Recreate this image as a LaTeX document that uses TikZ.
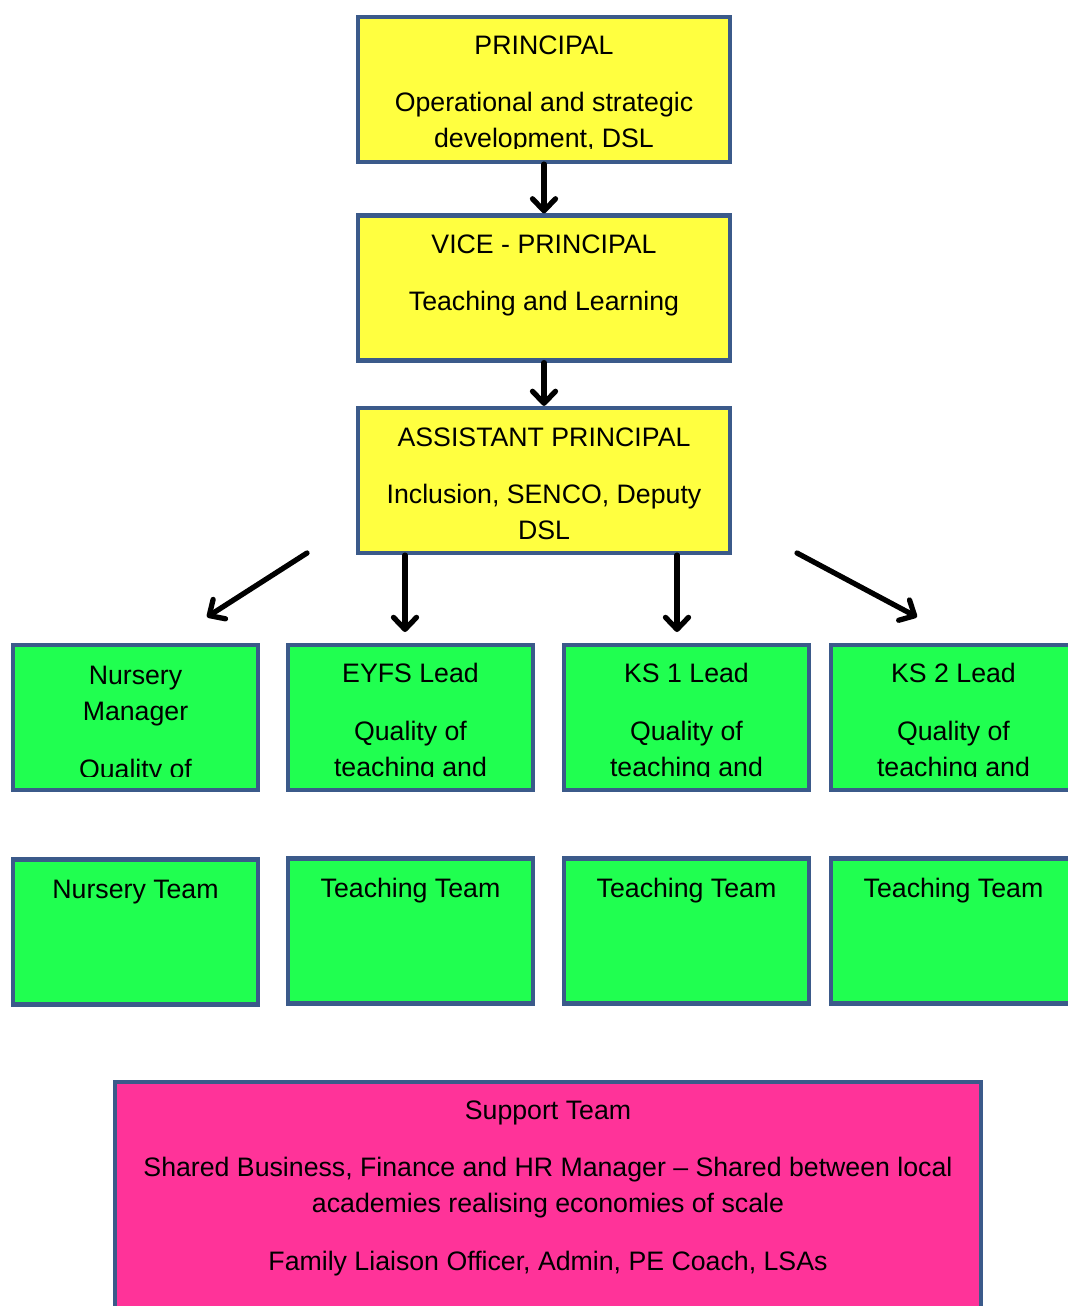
\documentclass[tikz,border=0pt]{standalone}
\usepackage{fontspec}
\setmainfont{Liberation Sans}
\usetikzlibrary{positioning,arrows.meta,calc}
\definecolor{cframe}{HTML}{3B5A8A}
\definecolor{cyellow}{HTML}{FFFF40}
\definecolor{cgreen}{HTML}{20FF50}
\definecolor{cpink}{HTML}{FF3399}

\begin{document}
\begin{tikzpicture}[x=0.02cm, y=-0.02cm,
 box/.style={rectangle, draw=cframe, line width=2.4pt, inner sep=0pt},
 head/.style={box, fill=cyellow, minimum width=7.44cm, minimum height=2.9cm},
 lead/.style={box, fill=cgreen, minimum width=4.9cm, minimum height=2.9cm},
 supp/.style={box, fill=cpink, minimum width=17.32cm, minimum height=5.2cm},
 txt/.style={anchor=north, align=center, inner sep=0pt, font=\fontsize{15.2}{20.4}\selectfont},
 arr/.style={-{Straight Barb[length=2.4mm,width=4.6mm,round]}, line width=3pt, line cap=round, draw=black},
]
 \useasboundingbox (0,0) rectangle (1068,1306);
 \clip (0,0) rectangle (1068,1306);

 % leadership
 \node[head] (P) at (544,89.5) {};
 \node[head] (V) at (544,288) {};
 \node[head] (A) at (544,480.5) {};

 % phase leads and teams
 \node[lead] (NM) at (135.5,717.5) {};
 \node[lead] (EY) at (410.5,717.5) {};
 \node[lead] (K1) at (686.5,717.5) {};
 \node[lead] (K2) at (953.5,717.5) {};
 \node[lead] (NT) at (135.5,932) {};
 \node[lead] (ET) at (410.5,931) {};
 \node[lead] (T1) at (686.5,931) {};
 \node[lead] (T2) at (953.5,931) {};

 \node[supp] (ST) at (548,1212) {};

 % texts cut off by their frames
 \begin{scope}
 \clip (0,0) rectangle (1068,148) (0,600) rectangle (1068,776);
 \node[txt] (P-t) at (544,35) {PRINCIPAL\\[12.5pt]Operational and strategic\\development, DSL};
 \node[txt] (NM-t) at (135.5,666) {Nursery\\Manager\\[12.5pt]Quality of\\teaching and};
 \node[txt] (EY-t) at (410.5,663) {EYFS Lead\\[12.5pt]Quality of\\teaching and};
 \node[txt] (K1-t) at (686.5,663) {KS 1 Lead\\[12.5pt]Quality of\\teaching and};
 \node[txt] (K2-t) at (953.5,663) {KS 2 Lead\\[12.5pt]Quality of\\teaching and};
 \end{scope}

 \node[txt] (V-t) at (544,234) {VICE - PRINCIPAL\\[12.5pt]Teaching and Learning};
 \node[txt] (A-t) at (544,427) {ASSISTANT PRINCIPAL\\[12.5pt]Inclusion, SENCO, Deputy\\DSL};
 \node[txt] (NT-t) at (135.5,880) {Nursery Team};
 \node[txt] (ET-t) at (410.5,878) {Teaching Team};
 \node[txt] (T1-t) at (686.5,878) {Teaching Team};
 \node[txt] (T2-t) at (953.5,878) {Teaching Team};
 \node[txt] (ST-t) at (548,1100) {Support Team\\[12.5pt]Shared Business, Finance and HR Manager -- Shared between local\\academies realising economies of scale\\[12.5pt]Family Liaison Officer, Admin, PE Coach, LSAs};

 % arrow ends
 \coordinate (nm-in) at (307,553);
 \coordinate (nm-out) at (207,617);
 \coordinate (ey-out) at (405,632);
 \coordinate (k1-out) at (677,632);
 \coordinate (k2-in) at (797,553);
 \coordinate (k2-out) at (917,617);

 \draw[arr] (P) -- (V);
 \draw[arr] (V) -- (A);
 \draw[arr] (nm-in) -- (nm-out);
 \draw[arr] (A.south -| ey-out) -- (ey-out);
 \draw[arr] (A.south -| k1-out) -- (k1-out);
 \draw[arr] (k2-in) -- (k2-out);
\end{tikzpicture}
\end{document}
